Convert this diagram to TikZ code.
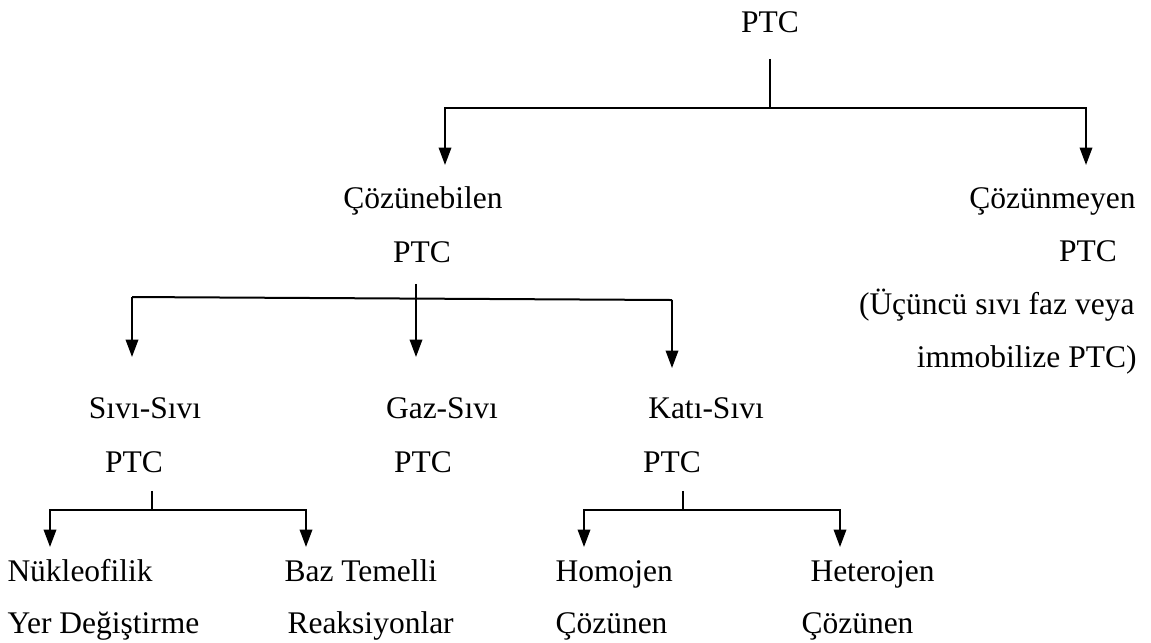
\documentclass[tikz,border=0pt]{standalone}
\usepackage{fontspec}
\setmainfont{Liberation Serif}
\usetikzlibrary{arrows.meta}

\begin{document}
\begin{tikzpicture}[x=0.4pt, y=-0.4pt,
txtnode/.style={inner sep=0pt, anchor=base, font=\fontsize{12.6}{15}\selectfont},
linkline/.style={line width=0.8pt},
arrowline/.style={line width=0.8pt, -{Triangle[length=7pt, width=5pt]}},
]
\useasboundingbox (0,0) rectangle (1151,642);

%Nodes
\node[txtnode] (ptc)     at (770,32)  {PTC};
\node[txtnode] (coz)     at (423,208) {Çözünebilen};
\node[txtnode] (cozptc)  at (422,262) {PTC};
\node[txtnode, anchor=base east] (cozm)    at (1136,208) {Çözünmeyen};
\node[txtnode] (cozmptc) at (1088,261) {PTC};
\node[txtnode, anchor=base east] (note1) at (1135,314) {(Üçüncü sıvı faz veya};
\node[txtnode, anchor=base east] (note2) at (1137,367) {immobilize PTC)};
\node[txtnode] (sivi)    at (145,418) {Sıvı-Sıvı};
\node[txtnode] (siviptc) at (134,472) {PTC};
\node[txtnode] (gaz)     at (442,418) {Gaz-Sıvı};
\node[txtnode] (gazptc)  at (423,472) {PTC};
\node[txtnode] (kati)    at (706,418) {Katı-Sıvı};
\node[txtnode] (katiptc) at (672,472) {PTC};
\node[txtnode, anchor=base west] (nuk)     at (7,581)   {Nükleofilik};
\node[txtnode, anchor=base west] (nuk2)    at (7,633)   {Yer Değiştirme};
\node[txtnode, anchor=base west] (baz)     at (284,581) {Baz Temelli};
\node[txtnode, anchor=base west] (baz2)    at (287,633) {Reaksiyonlar};
\node[txtnode, anchor=base west] (homo)    at (555,581) {Homojen};
\node[txtnode, anchor=base west] (homo2)   at (555,633) {Çözünen};
\node[txtnode, anchor=base west] (hetero)  at (810,581) {Heterojen};
\node[txtnode, anchor=base west] (hetero2) at (801,633) {Çözünen};

%Junctions and arrow tips
\coordinate (j1) at (770,108);
\coordinate (t1) at (445,165);
\coordinate (t2) at (1086,165);
\coordinate (s1) at (132,297);
\coordinate (s2) at (416,298);
\coordinate (s3) at (672,300);
\coordinate (j3) at (152,510);
\coordinate (j4) at (683,510);
\coordinate (u1) at (50,547);
\coordinate (u2) at (306,547);
\coordinate (u3) at (584,547);
\coordinate (u4) at (840,547);

%Lines
\draw[linkline, shorten <=10.4pt] (ptc.south) -- (j1);
\draw[arrowline] (j1) -| (t1);
\draw[arrowline] (j1) -| (t2);

\draw[linkline, shorten <=8.4pt] (cozptc.south -| s2) -- (s2);
\draw[linkline] (s1) -- (s3);
\draw[arrowline] (s1) -- (s1 |- 0,357);
\draw[arrowline] (s2) -- (s2 |- 0,357);
\draw[arrowline] (s3) -- (s3 |- 0,368);

\draw[linkline, shorten <=7.2pt] (siviptc.south -| j3) -- (j3);
\draw[arrowline] (j3) -| (u1);
\draw[arrowline] (j3) -| (u2);
\draw[linkline, shorten <=7.2pt] (katiptc.south -| j4) -- (j4);
\draw[arrowline] (j4) -| (u3);
\draw[arrowline] (j4) -| (u4);
\end{tikzpicture}
\end{document}
